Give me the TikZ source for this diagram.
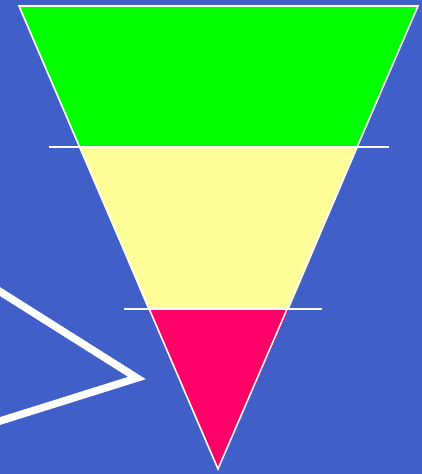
\documentclass[tikz,border=0pt]{standalone}
\definecolor{bgblue}{RGB}{65,95,200}
\definecolor{topgreen}{RGB}{0,255,0}
\definecolor{midyellow}{RGB}{255,255,153}
\definecolor{botred}{RGB}{255,0,102}
\tikzset{
  band/.style={draw=none},
  edge/.style={draw=white, line width=1.6pt},
  divider/.style={draw=white, line width=1.5pt},
  chevron/.style={draw=white, line width=7.5pt, line join=miter}
}
\begin{document}
\begin{tikzpicture}[x=1pt,y=-1pt]
\fill[bgblue] (0,0) rectangle (422,474);
\useasboundingbox (0,0) rectangle (422,474);
% corner coordinates
\coordinate (tl) at (19,6);
\coordinate (tr) at (418,6);
\coordinate (apex) at (218,469);
\coordinate (l1) at (80,147);
\coordinate (r1) at (358,147);
\coordinate (l2) at (148,309);
\coordinate (r2) at (289,309);
% bands
\fill[topgreen] (tl) -- (tr) -- (r1) -- (l1) -- cycle;
\fill[midyellow] (l1) -- (r1) -- (r2) -- (l2) -- cycle;
\fill[botred] (l2) -- (r2) -- (apex) -- cycle;
% outline
\draw[edge, line join=miter] (tl) -- (tr) -- (apex) -- cycle;
% dividers
\coordinate (d1a) at (49,147);
\coordinate (d1b) at (389,147);
\coordinate (d2a) at (124,309);
\coordinate (d2b) at (322,309);
\draw[divider] (d1a) -- (d1b);
\draw[divider] (d2a) -- (d2b);
% chevron
\coordinate (c1) at (-6,287.8);
\coordinate (ctip) at (137,378);
\coordinate (c2) at (-6,422.9);
\draw[chevron] (c1) -- (ctip) -- (c2);
\end{tikzpicture}
\end{document}
